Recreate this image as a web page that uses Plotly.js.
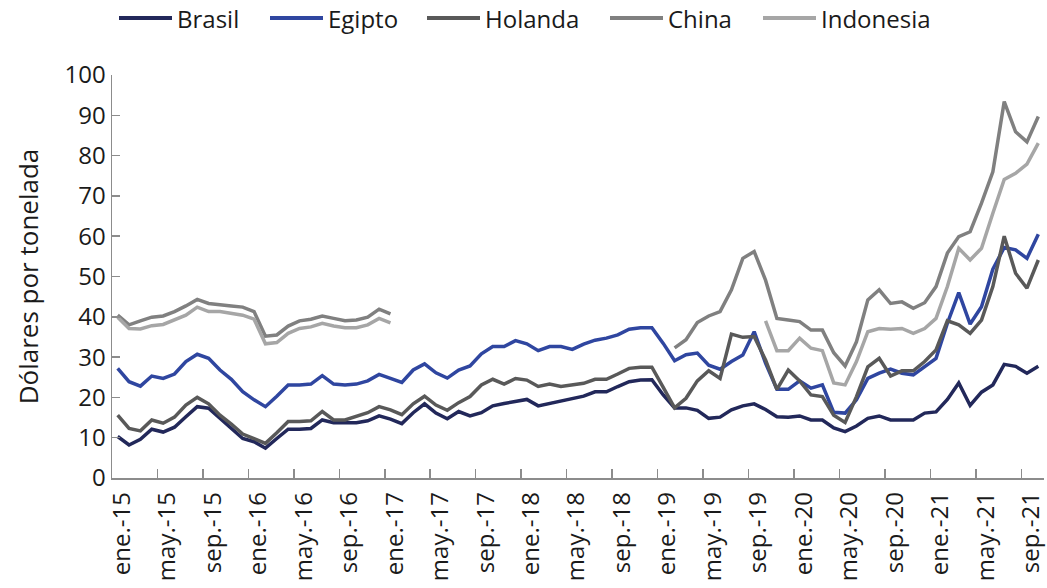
<!DOCTYPE html>
<html>
<head>
<meta charset="utf-8">
<script src="https://cdn.plot.ly/plotly-3.0.1.min.js"></script>
<style>html,body{margin:0;padding:0;background:#fff}#chart{width:1047px;height:588px}</style>
</head>
<body>
<div id="chart"></div>
<script>
// Monthly data, ene.-15 .. oct.-21 (82 months); null = no data
const seriesNames = ["Brasil", "Egipto", "Holanda", "China", "Indonesia"];

const brasil = [10.3, 8.2, 9.6, 12.1, 11.4, 12.6, 15.2, 17.7, 17.3, 14.8, 12.3, 9.8,
  9.0, 7.4, 9.8, 12.1, 12.1, 12.3, 14.4, 13.7, 13.7, 13.7, 14.2, 15.4,
  14.6, 13.5, 16.2, 18.4, 16.1, 14.7, 16.5, 15.4, 16.2, 17.9, 18.5, 18.9,
  19.5, 17.9, 18.5, 18.9, 19.5, 20.3, 21.4, 21.4, 22.7, 23.9, 24.3, 24.4,
  20.6, 17.4, 17.4, 16.8, 14.8, 15.1, 16.9, 17.9, 18.4, 17.0, 15.2, 15.1,
  15.4, 14.4, 14.4, 12.4, 11.5, 12.9, 14.8, 15.4, 14.4, 14.4, 14.4, 16.1,
  16.4, 19.5, 23.6, 18.0, 21.3, 23.1, 28.2, 27.7, 26.0, 27.7];

const egipto = [27.2, 23.9, 22.8, 25.3, 24.7, 25.8, 28.9, 30.7, 29.7, 26.8, 24.5, 21.4,
  19.4, 17.7, 20.3, 23.1, 23.1, 23.3, 25.4, 23.3, 23.1, 23.3, 24.1, 25.7,
  24.7, 23.7, 26.8, 28.3, 26.1, 24.8, 26.8, 27.8, 30.8, 32.6, 32.6, 34.1,
  33.3, 31.6, 32.6, 32.6, 31.9, 33.2, 34.2, 34.7, 35.5, 36.9, 37.3, 37.3,
  33.4, 29.1, 30.6, 31.0, 28.0, 27.0, 28.9, 30.5, 36.3, 28.5, 22.0, 22.0,
  24.1, 22.3, 23.1, 16.3, 16.1, 19.4, 24.7, 26.0, 27.0, 26.0, 25.6, 27.6,
  29.7, 38.4, 46.0, 38.2, 42.5, 51.8, 57.2, 56.6, 54.5, 60.5];

const holanda = [15.6, 12.3, 11.7, 14.4, 13.6, 15.1, 18.1, 20.0, 18.4, 15.6, 13.4, 10.9,
  9.8, 8.6, 11.2, 14.0, 14.0, 14.2, 16.5, 14.4, 14.4, 15.4, 16.2, 17.7,
  16.9, 15.7, 18.4, 20.3, 18.1, 16.8, 18.7, 20.2, 23.1, 24.5, 23.3, 24.7,
  24.3, 22.7, 23.3, 22.7, 23.1, 23.5, 24.5, 24.5, 25.8, 27.2, 27.5, 27.5,
  22.5, 17.4, 19.8, 24.1, 26.6, 24.7, 35.7, 34.9, 35.1, 29.3, 22.0, 26.8,
  24.1, 20.6, 20.2, 15.6, 13.8, 20.2, 27.6, 29.7, 25.3, 26.6, 26.6, 28.9,
  31.8, 39.0, 38.0, 35.9, 39.2, 47.5, 60.0, 50.8, 47.1, 54.1];

const china = [40.4, 38.0, 39.0, 39.9, 40.2, 41.3, 42.7, 44.3, 43.3, 42.9, 42.7, 42.4,
  41.3, 35.2, 35.5, 37.7, 39.0, 39.4, 40.2, 39.6, 39.0, 39.2, 39.9, 41.9,
  40.7, null, null, null, null, null, null, null, null, null, null, null,
  null, null, null, null, null, null, null, null, null, null, null, null,
  null, 32.3, 34.3, 38.6, 40.2, 41.3, 46.7, 54.5, 56.2, 49.1, 39.6, 39.2,
  38.8, 36.7, 36.7, 31.1, 27.8, 33.8, 44.2, 46.7, 43.3, 43.7, 42.1, 43.5,
  47.5, 55.8, 59.9, 61.1, 68.2, 76.0, 93.4, 85.9, 83.4, 89.7];

const indonesia = [39.9, 37.1, 37.0, 37.8, 38.1, 39.2, 40.4, 42.4, 41.3, 41.3, 40.9, 40.4,
  39.4, 33.3, 33.6, 35.9, 37.1, 37.5, 38.4, 37.7, 37.3, 37.3, 38.0, 39.6,
  38.5, null, null, null, null, null, null, null, null, null, null, null,
  null, null, null, null, null, null, null, null, null, null, null, null,
  null, null, null, null, null, null, null, null, null, 39.0, 31.6, 31.6,
  34.7, 32.2, 31.6, 23.6, 23.1, 28.9, 36.3, 37.1, 36.9, 37.1, 35.9, 37.1,
  39.6, 47.5, 57.0, 54.1, 57.0, 65.7, 74.1, 75.6, 77.9, 83.1];

const tickLabels = ["ene.-15", "may.-15", "sep.-15", "ene.-16", "may.-16", "sep.-16",
  "ene.-17", "may.-17", "sep.-17", "ene.-18", "may.-18", "sep.-18",
  "ene.-19", "may.-19", "sep.-19", "ene.-20", "may.-20", "sep.-20",
  "ene.-21", "may.-21", "sep.-21"];

const yTitle = "Dólares por tonelada";

// ---- styling ----
const colors = ["#22285a", "#2f46a0", "#595959", "#808080", "#a6a6a6"];
const allSeries = [brasil, egipto, holanda, china, indonesia];
const FONT = "Open Sans, Noto Sans, sans-serif";
const axisCol = "#8c8c8c";

const xIdx = brasil.map((_, i) => i);
const traces = allSeries.map((ys, k) => ({
  type: "scatter", mode: "lines", name: seriesNames[k],
  x: xIdx, y: ys, connectgaps: false,
  line: {color: colors[k], width: 3.5}, hoverinfo: "skip", showlegend: false
}));

const tickvals = tickLabels.map((_, j) => j * 4 - 0.5);

// manual legend (pixel positions converted to paper coords)
const M = {l: 112, r: 3, t: 75, b: 110};
const W = 1047, H = 588;
const pw = W - M.l - M.r, ph = H - M.t - M.b;
const px2x = p => (p - M.l) / pw;
const py2y = p => (H - M.b - p) / ph;
const legendLineStart = [119, 270, 427, 610, 763];
const legendLineLen = 53;
const legendY = 18;
const shapes = [], annotations = [];
seriesNames.forEach((n, k) => {
  const x0 = legendLineStart[k];
  shapes.push({type: "line", xref: "paper", yref: "paper",
    x0: px2x(x0), x1: px2x(x0 + legendLineLen), y0: py2y(legendY), y1: py2y(legendY),
    line: {color: colors[k], width: 4}});
  annotations.push({xref: "paper", yref: "paper", x: px2x(x0 + legendLineLen + 3), y: py2y(legendY),
    xanchor: "left", yanchor: "middle", showarrow: false, text: n,
    font: {family: FONT, size: 24, color: "#1a1a1a"}});
});

const layout = {
  width: W, height: H,
  margin: M,
  paper_bgcolor: "#fff", plot_bgcolor: "#fff",
  font: {family: FONT, color: "#1a1a1a"},
  showlegend: false,
  xaxis: {
    range: [-0.5, 81.5], tickmode: "array", tickvals: tickvals, ticktext: tickLabels,
    tickangle: -90, ticks: "inside", ticklen: 9, tickwidth: 1.5, tickcolor: axisCol,
    showline: true, linecolor: axisCol, linewidth: 1.5, showgrid: false, zeroline: false,
    tickfont: {family: FONT, size: 24, color: "#1a1a1a"},
    ticklabelshift: 10, ticklabelstandoff: 3, fixedrange: true
  },
  yaxis: {
    range: [0, 100], tickmode: "linear", tick0: 0, dtick: 10,
    ticks: "inside", ticklen: 8, tickwidth: 1.5, tickcolor: axisCol,
    showline: true, linecolor: axisCol, linewidth: 1.5, showgrid: false, zeroline: false,
    tickfont: {family: FONT, size: 24, color: "#1a1a1a"},
    title: {text: yTitle, font: {family: FONT, size: 26, color: "#1a1a1a"}, standoff: 18},
    fixedrange: true
  },
  shapes: shapes,
  annotations: annotations
};

Plotly.newPlot("chart", traces, layout, {displayModeBar: false, staticPlot: true});
</script>
</body>
</html>
